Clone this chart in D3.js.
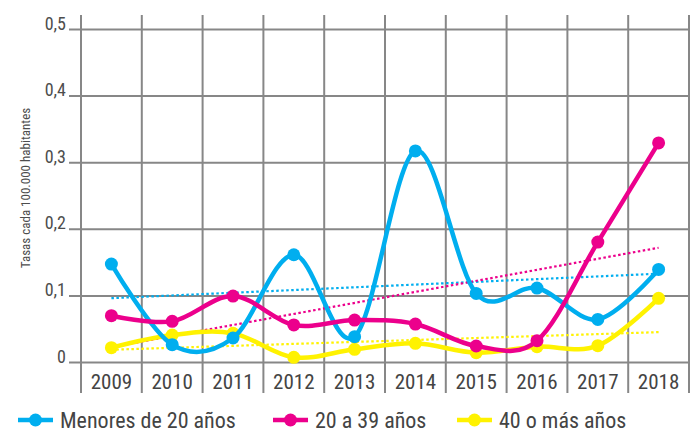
<!DOCTYPE html>
<html><head><meta charset="utf-8">
<script src="https://cdn.jsdelivr.net/npm/d3@7"></script>
<style>
html,body{margin:0;padding:0;background:#fff;}
svg{display:block;}
text{font-family:"Liberation Sans Narrow","Arial Narrow","Roboto Condensed","Liberation Sans",sans-serif;}
</style></head>
<body>
<svg id="c" width="690" height="432"></svg>
<script>
const years = ["2009","2010","2011","2012","2013","2014","2015","2016","2017","2018"];
const menores20 = [0.147,0.026,0.036,0.161,0.038,0.317,0.103,0.111,0.064,0.139];
const de20a39 = [0.0695,0.061,0.099,0.0556,0.063,0.057,0.024,0.032,0.180,0.329];
const de40mas = [0.0215,0.0405,0.043,0.007,0.019,0.028,0.014,0.023,0.0245,0.0956];
const yTicks = [0,0.1,0.2,0.3,0.4,0.5];
const seriesNames = ["Menores de 20 años","20 a 39 años","40 o más años"];
const seriesColors = ["#00AEEF","#EC008C","#FFF200"];
const yTitle = "Tasas cada 100.000 habitantes";

const series = [
  {name:seriesNames[0], color:seriesColors[0], values:menores20},
  {name:seriesNames[1], color:seriesColors[1], values:de20a39},
  {name:seriesNames[2], color:seriesColors[2], values:de40mas}
];

const svg = d3.select("#c");
const x = d3.scaleBand().domain(years).range([81,689]).padding(0);
const y = d3.scaleLinear().domain([0,0.5]).range([362,29]);
const cx = d => x(d) + x.bandwidth()/2;
const gridColor = "#878787";

// vertical gridlines
const vb = years.map(d => x(d)).concat([x.range()[1]]);
svg.append("g").selectAll("line").data(vb).join("line")
  .attr("x1", d=>d).attr("x2", d=>d).attr("y1",15).attr("y2",393)
  .attr("stroke",gridColor).attr("stroke-width",2);

// y axis with horizontal gridlines
const fmt = d => d===0 ? "0" : d.toFixed(1).replace(".", ",");
const yAxis = svg.append("g").attr("transform","translate(69,0)")
  .call(d3.axisLeft(y).tickValues(yTicks).tickFormat(fmt).tickSize(-620).tickPadding(3));
yAxis.select(".domain").remove();
yAxis.selectAll(".tick line").attr("stroke",gridColor).attr("stroke-width",2);
yAxis.selectAll(".tick text").attr("dy","0").attr("y",0)
  .attr("fill","#4d4d4d").style("font-size","18px");

// x axis labels
const xAxis = svg.append("g").attr("transform","translate(0,362)")
  .call(d3.axisBottom(x).tickSize(0).tickPadding(0));
xAxis.select(".domain").remove();
xAxis.selectAll(".tick text").attr("y",27).attr("dy","0")
  .attr("fill","#444").style("font-size","21px");

// y title
svg.append("text").attr("transform","translate(30,188) rotate(-90)")
  .attr("text-anchor","middle").attr("fill","#4d4d4d").style("font-size","13px")
  .text(yTitle);

// trend lines (least-squares fit of each series)
function fit(vals){
  const n = vals.length, mx = (n-1)/2, my = d3.mean(vals);
  let sxy=0, sxx=0;
  vals.forEach((v,i)=>{sxy+=(i-mx)*(v-my); sxx+=(i-mx)*(i-mx);});
  const b = sxy/sxx, a = my - b*mx;
  return [a, a + b*(n-1)];
}
const order = [2,0,1];
order.forEach(k=>{
  const s = series[k];
  const [a0,a1] = fit(s.values);
  svg.append("line")
    .attr("x1",cx(years[0])).attr("x2",cx(years[years.length-1]))
    .attr("y1",y(a0)).attr("y2",y(a1))
    .attr("stroke",s.color).attr("stroke-width",2.2).attr("stroke-dasharray","2.5,2.5");
});

// series lines and markers
const line = d3.line().x((d,i)=>cx(years[i])).y(d=>y(d)).curve(d3.curveCatmullRom.alpha(0));
order.forEach(k=>{
  const s = series[k];
  const g = svg.append("g");
  g.append("path").attr("d", line(s.values)).attr("fill","none")
    .attr("stroke",s.color).attr("stroke-width",4.5).attr("stroke-linejoin","round");
  g.selectAll("circle").data(s.values).join("circle")
    .attr("cx",(d,i)=>cx(years[i])).attr("cy",d=>y(d)).attr("r",6.5).attr("fill",s.color);
});

// legend
const legX = [18, 273, 457];
series.forEach((s,i)=>{
  const g = svg.append("g").attr("transform",`translate(${legX[i]},420)`);
  g.append("line").attr("x1",0).attr("x2",35).attr("y1",0).attr("y2",0)
    .attr("stroke",s.color).attr("stroke-width",4.5);
  g.append("circle").attr("cx",17.5).attr("cy",0).attr("r",6.5).attr("fill",s.color);
  g.append("text").attr("x",42).attr("y",8).attr("fill","#444").style("font-size","22px").text(s.name);
});
</script>
</body></html>
